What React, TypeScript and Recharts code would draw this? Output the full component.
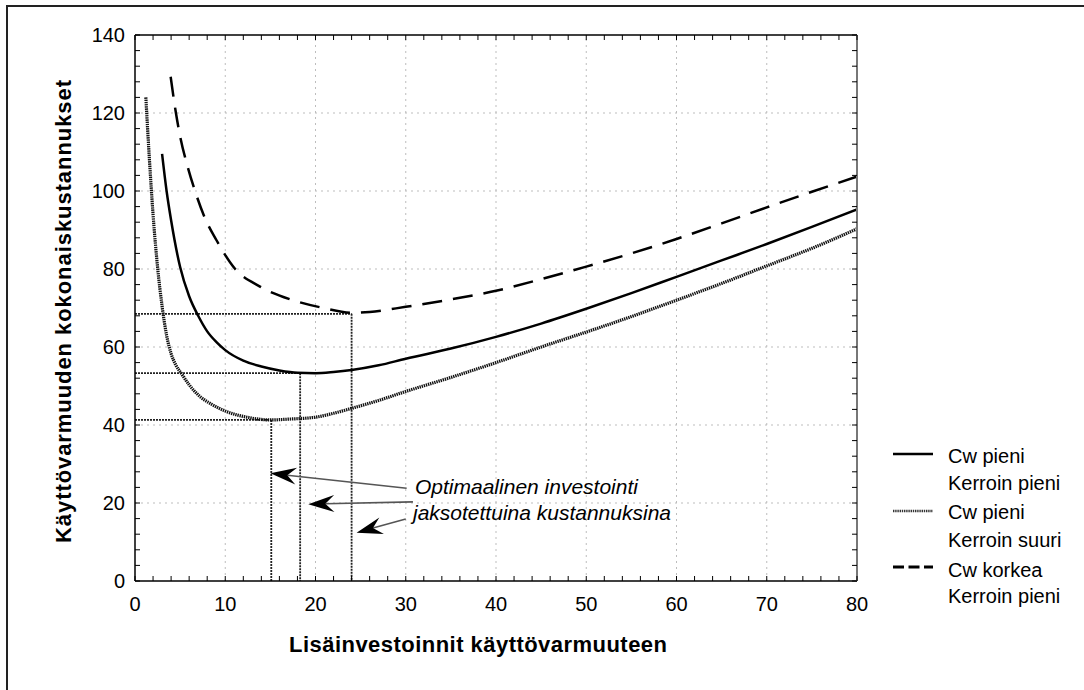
import React from "react";
import {
  ComposedChart,
  Line,
  XAxis,
  YAxis,
  ReferenceLine,
} from "recharts";

// Cw pieni, Kerroin pieni (solid)
const pieniPieniX = [3, 3.5, 4, 5, 6, 7, 8, 9, 10, 12, 14, 16, 18, 20, 22, 24, 27, 30, 35, 40, 45, 50, 55, 60, 65, 70, 75, 80];
const pieniPieniY = [109.5, 100, 92.5, 80.5, 73, 68, 64, 61.3, 59.2, 56.5, 55, 54, 53.4, 53.3, 53.6, 54.1, 55.3, 57, 59.6, 62.6, 66, 69.8, 73.8, 78, 82.2, 86.4, 90.8, 95.3];

// Cw pieni, Kerroin suuri (dotted)
const pieniSuuriX = [1.2, 1.6, 2, 2.5, 3, 3.5, 4, 4.5, 5.2, 6, 7.2, 8.5, 10.2, 12.4, 15, 17, 20, 22, 24.2, 27, 30, 35, 40, 45, 51.5, 55, 60, 65, 70, 75, 80];
const pieniSuuriY = [124, 108, 94, 80.5, 70.5, 63, 58.3, 55.5, 53, 50.3, 47.3, 45.3, 43.4, 42, 41.3, 41.5, 42, 43, 44.4, 46.3, 48.6, 52.2, 56, 60, 65, 67.8, 72, 76.3, 80.8, 85.3, 90.3];

// Cw korkea, Kerroin pieni (dashed)
const korkeaPieniX = [3.95, 4.5, 5, 5.8, 6.65, 7.76, 9, 11.1, 13.85, 17.5, 20.9, 24, 26, 30, 35, 40, 45, 50, 55, 60, 65, 70, 75, 80];
const korkeaPieniY = [129.3, 120.5, 114, 106.5, 100, 93, 87.5, 80, 75.5, 72, 70, 68.8, 69, 70.3, 72.2, 74.4, 77.4, 80.6, 84, 87.7, 91.7, 95.8, 99.8, 103.7];

// optimum points (pieni/pieni, pieni/suuri, korkea/pieni)
const optimumX = [18.3, 15.1, 24.0];
const optimumY = [53.3, 41.3, 68.5];

// annotation arrows, tail -> tip
const arrowFromX = [30.1, 30.8, 30.0];
const arrowFromY = [23.8, 20.3, 15.9];
const arrowToX = [15.0, 19.2, 24.55];
const arrowToY = [27.6, 19.7, 12.4];

const xMajorTicks = [0, 10, 20, 30, 40, 50, 60, 70, 80];
const yMajorTicks = [0, 20, 40, 60, 80, 100, 120, 140];
const xMinorTicks = Array.from({ length: 41 }, (_, i) => i * 2);
const yMinorTicks = Array.from({ length: 36 }, (_, i) => i * 4);

const toPoints = (xs: number[], ys: number[]) => xs.map((x, i) => ({ x, y: ys[i] }));

const FONT = "'Liberation Sans', Arial, sans-serif";
const X_GAP = 16;
const Y_GAP = 10;
const TICK_LEN = 5;

function BottomTick(props: any) {
  const { x, y, payload } = props;
  const axisY = y - X_GAP;
  const major = payload.value % 10 === 0;
  return (
    <g>
      <line x1={x} y1={axisY} x2={x} y2={axisY - TICK_LEN} stroke="#000" />
      {major && (
        <text x={x} y={y} dy="0.71em" textAnchor="middle" fontSize={20} fontFamily={FONT} fill="#000">
          {payload.value}
        </text>
      )}
    </g>
  );
}

function LeftTick(props: any) {
  const { x, y, payload } = props;
  const axisX = x + Y_GAP;
  const major = payload.value % 20 === 0;
  return (
    <g>
      <line x1={axisX} y1={y} x2={axisX + TICK_LEN} y2={y} stroke="#000" />
      {major && (
        <text x={x} y={y} dy="0.355em" textAnchor="end" fontSize={20} fontFamily={FONT} fill="#000">
          {payload.value}
        </text>
      )}
    </g>
  );
}

function TopTick(props: any) {
  const { x, y } = props;
  return <line x1={x} y1={y} x2={x} y2={y + TICK_LEN} stroke="#000" />;
}

function RightTick(props: any) {
  const { x, y } = props;
  return <line x1={x} y1={y} x2={x - TICK_LEN} y2={y} stroke="#000" />;
}

function ArrowShape(props: any) {
  const { x1, y1, x2, y2 } = props;
  const dx = x2 - x1;
  const dy = y2 - y1;
  const len = Math.hypot(dx, dy) || 1;
  const ux = dx / len;
  const uy = dy / len;
  const nx = -uy;
  const ny = ux;
  const L = 26;
  const W = 8.5;
  const N = 17;
  const bx = x2 - ux * L;
  const by = y2 - uy * L;
  const kx = x2 - ux * N;
  const ky = y2 - uy * N;
  const pts = [
    [x2, y2],
    [bx + nx * W, by + ny * W],
    [kx, ky],
    [bx - nx * W, by - ny * W],
  ]
    .map((p) => p.join(","))
    .join(" ");
  return (
    <g>
      <line x1={x1} y1={y1} x2={kx} y2={ky} stroke="#555" strokeWidth={1.6} />
      <polygon points={pts} fill="#000" />
    </g>
  );
}

export default function App() {
  return (
    <div
      style={{
        position: "absolute",
        left: 0,
        top: 0,
        width: 1084,
        height: 690,
        overflow: "hidden",
        background: "#fff",
      }}
    >
      <div
        style={{
          position: "absolute",
          left: 6,
          top: 5,
          width: 1200,
          height: 800,
          borderTop: "2px solid #222",
          borderLeft: "2px solid #222",
        }}
      />
      <div style={{ position: "absolute", left: 0, top: 0 }}>
        <ComposedChart
          width={1084}
          height={690}
          margin={{ top: 35, right: 227, bottom: 0, left: 0 }}
        >
          <XAxis
            xAxisId="main"
            type="number"
            dataKey="x"
            domain={[0, 80]}
            allowDataOverflow
            ticks={xMinorTicks}
            interval={0}
            height={109}
            tickLine={false}
            tickSize={0}
            tickMargin={X_GAP}
            axisLine={{ stroke: "#000", strokeWidth: 1.5 }}
            tick={<BottomTick />}
          />
          <XAxis
            xAxisId="top"
            orientation="top"
            type="number"
            dataKey="x"
            domain={[0, 80]}
            allowDataOverflow
            ticks={xMinorTicks}
            interval={0}
            mirror
            tickLine={false}
            tickSize={0}
            tickMargin={0}
            axisLine={{ stroke: "#000", strokeWidth: 1.5 }}
            tick={<TopTick />}
          />
          <YAxis
            yAxisId="main"
            type="number"
            domain={[0, 140]}
            allowDataOverflow
            ticks={yMinorTicks}
            interval={0}
            width={135}
            tickLine={false}
            tickSize={0}
            tickMargin={Y_GAP}
            axisLine={{ stroke: "#000", strokeWidth: 1.5 }}
            tick={<LeftTick />}
          />
          <YAxis
            yAxisId="right"
            orientation="right"
            type="number"
            domain={[0, 140]}
            allowDataOverflow
            ticks={yMinorTicks}
            interval={0}
            mirror
            tickLine={false}
            tickSize={0}
            tickMargin={0}
            axisLine={{ stroke: "#777", strokeWidth: 2 }}
            tick={<RightTick />}
          />

          {xMajorTicks.slice(1, -1).map((v) => (
            <ReferenceLine
              key={`gx${v}`}
              xAxisId="main"
              yAxisId="main"
              x={v}
              stroke="#bdbdbd"
              strokeDasharray="2 4"
            />
          ))}
          {yMajorTicks.slice(1, -1).map((v) => (
            <ReferenceLine
              key={`gy${v}`}
              xAxisId="main"
              yAxisId="main"
              y={v}
              stroke="#bdbdbd"
              strokeDasharray="2 4"
            />
          ))}

          {optimumX.map((ox, i) => (
            <ReferenceLine
              key={`h${i}`}
              xAxisId="main"
              yAxisId="main"
              segment={[
                { x: 0, y: optimumY[i] },
                { x: ox, y: optimumY[i] },
              ]}
              stroke="#222"
              strokeWidth={1.8}
              strokeDasharray="2 1"
            />
          ))}
          {optimumX.map((ox, i) => (
            <ReferenceLine
              key={`v${i}`}
              xAxisId="main"
              yAxisId="main"
              segment={[
                { x: ox, y: optimumY[i] },
                { x: ox, y: 0 },
              ]}
              stroke="#222"
              strokeWidth={1.8}
              strokeDasharray="2 1"
            />
          ))}

          {/* invisible series so the top/right frame axes get a scale */}
          <Line
            xAxisId="top"
            yAxisId="right"
            data={toPoints(pieniPieniX, pieniPieniY)}
            dataKey="y"
            stroke="none"
            dot={false}
            activeDot={false}
            legendType="none"
            isAnimationActive={false}
          />

          <Line
            xAxisId="main"
            yAxisId="main"
            data={toPoints(pieniSuuriX, pieniSuuriY)}
            dataKey="y"
            type="monotone"
            stroke="#111"
            strokeWidth={3.2}
            strokeDasharray="1.4 0.8"
            dot={false}
            isAnimationActive={false}
          />
          <Line
            xAxisId="main"
            yAxisId="main"
            data={toPoints(pieniPieniX, pieniPieniY)}
            dataKey="y"
            type="monotone"
            stroke="#000"
            strokeWidth={2.5}
            dot={false}
            isAnimationActive={false}
          />
          <Line
            xAxisId="main"
            yAxisId="main"
            data={toPoints(korkeaPieniX, korkeaPieniY)}
            dataKey="y"
            type="monotone"
            stroke="#000"
            strokeWidth={2.5}
            strokeDasharray="20 11"
            dot={false}
            isAnimationActive={false}
          />

          {arrowToX.map((tx, i) => (
            <ReferenceLine
              key={`a${i}`}
              xAxisId="main"
              yAxisId="main"
              segment={[
                { x: arrowFromX[i], y: arrowFromY[i] },
                { x: tx, y: arrowToY[i] },
              ]}
              shape={(p: any) => <ArrowShape {...p} />}
            />
          ))}
        </ComposedChart>
      </div>

      <svg
        width={1084}
        height={690}
        style={{ position: "absolute", left: 0, top: 0, pointerEvents: "none" }}
        fontFamily={FONT}
      >
        <text
          x={289}
          y={652}
          fontSize={22}
          fontWeight="bold"
          textLength={378}
          lengthAdjust="spacing"
        >
          Lisäinvestoinnit käyttövarmuuteen
        </text>
        <text
          x={71}
          y={543}
          transform="rotate(-90, 71, 543)"
          fontSize={22}
          fontWeight="bold"
          textLength={463}
          lengthAdjust="spacing"
        >
          Käyttövarmuuden kokonaiskustannukset
        </text>

        <text x={415} y={494} fontSize={21} fontStyle="italic">
          Optimaalinen investointi
        </text>
        <text x={413} y={520} fontSize={21} fontStyle="italic">
          jaksotettuina kustannuksina
        </text>

        <line x1={893} y1={454} x2={933} y2={454} stroke="#000" strokeWidth={2.5} />
        <text x={948} y={463} fontSize={20}>Cw pieni</text>
        <text x={948} y={490} fontSize={20}>Kerroin pieni</text>

        <line x1={893} y1={511} x2={933} y2={511} stroke="#333" strokeWidth={2.5} strokeDasharray="1.4 0.8" />
        <text x={948} y={519} fontSize={20}>Cw pieni</text>
        <text x={948} y={547} fontSize={20}>Kerroin suuri</text>

        <line x1={893} y1={567} x2={933} y2={567} stroke="#000" strokeWidth={3} strokeDasharray="11 4.5" />
        <text x={948} y={577} fontSize={20}>Cw korkea</text>
        <text x={948} y={603} fontSize={20}>Kerroin pieni</text>
      </svg>
    </div>
  );
}
